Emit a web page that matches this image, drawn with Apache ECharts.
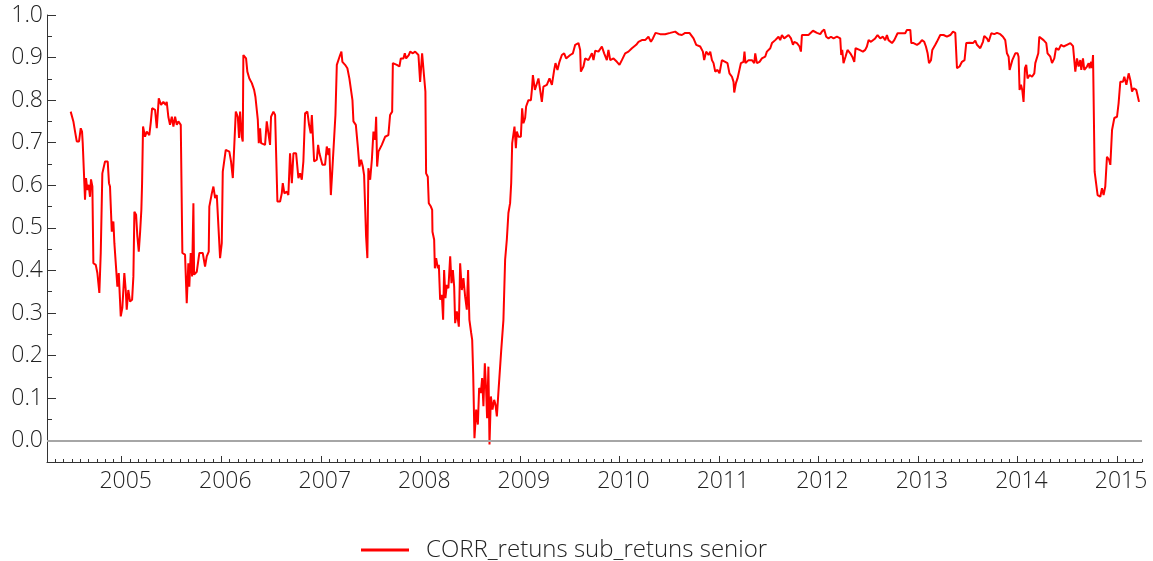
<!DOCTYPE html>
<html>
<head>
<meta charset="utf-8">
<script src="https://cdn.jsdelivr.net/npm/echarts@6/dist/echarts.min.js"></script>
<style>
html,body{margin:0;padding:0;background:#fff;}
#chart{width:1153px;height:561px;}
</style>
</head>
<body>
<div id="chart"></div>
<script>
// Dates as decimal years
var years = [
2004.487,2004.514,2004.531,2004.548,2004.571,2004.588,2004.601,2004.608,2004.624,2004.631,
2004.641,2004.654,2004.668,2004.681,2004.691,2004.705,2004.715,2004.739,2004.755,2004.775,
2004.789,2004.805,2004.822,2004.832,2004.859,2004.872,2004.882,2004.900,2004.916,2004.926,
2004.943,2004.956,2004.970,2004.990,2005.006,2005.026,2005.040,2005.050,2005.066,2005.083,
2005.104,2005.117,2005.127,2005.144,2005.157,2005.171,2005.184,2005.197,2005.204,2005.214,
2005.234,2005.251,2005.277,2005.291,2005.305,2005.335,2005.352,2005.372,2005.395,2005.418,
2005.442,2005.452,2005.468,2005.485,2005.503,2005.519,2005.536,2005.553,2005.569,2005.593,
2005.606,2005.609,2005.626,2005.636,2005.653,2005.669,2005.679,2005.693,2005.707,2005.720,
2005.727,2005.754,2005.780,2005.814,2005.837,2005.854,2005.874,2005.880,2005.905,2005.921,
2005.938,2005.955,2005.975,2005.988,2006.005,2006.015,2006.031,2006.045,2006.081,2006.098,
2006.116,2006.132,2006.146,2006.166,2006.179,2006.189,2006.206,2006.216,2006.222,2006.249,
2006.262,2006.282,2006.307,2006.330,2006.343,2006.357,2006.367,2006.377,2006.390,2006.400,
2006.440,2006.457,2006.473,2006.490,2006.500,2006.524,2006.541,2006.558,2006.564,2006.591,
2006.608,2006.618,2006.634,2006.658,2006.674,2006.691,2006.709,2006.725,2006.752,2006.775,
2006.792,2006.809,2006.825,2006.842,2006.865,2006.882,2006.899,2006.910,2006.926,2006.933,
2006.960,2006.973,2006.986,2007.000,2007.016,2007.043,2007.060,2007.076,2007.086,2007.101,
2007.114,2007.134,2007.147,2007.161,2007.181,2007.194,2007.207,2007.217,2007.244,2007.267,
2007.287,2007.302,2007.318,2007.328,2007.352,2007.372,2007.388,2007.405,2007.422,2007.435,
2007.445,2007.455,2007.468,2007.478,2007.496,2007.513,2007.529,2007.546,2007.556,2007.566,
2007.579,2007.596,2007.613,2007.629,2007.646,2007.679,2007.696,2007.717,2007.724,2007.764,
2007.790,2007.804,2007.830,2007.844,2007.857,2007.884,2007.898,2007.925,2007.948,2007.981,
2007.998,2008.018,2008.038,2008.051,2008.058,2008.075,2008.085,2008.106,2008.119,2008.122,
2008.139,2008.146,2008.159,2008.176,2008.186,2008.199,2008.216,2008.229,2008.239,2008.252,
2008.266,2008.282,2008.300,2008.313,2008.327,2008.340,2008.350,2008.367,2008.387,2008.400,
2008.417,2008.433,2008.450,2008.467,2008.480,2008.493,2008.511,2008.521,2008.531,2008.544,
2008.561,2008.578,2008.591,2008.608,2008.621,2008.634,2008.648,2008.661,2008.671,2008.684,
2008.695,2008.709,2008.725,2008.742,2008.755,2008.769,2008.785,2008.802,2008.812,2008.835,
2008.852,2008.869,2008.885,2008.902,2008.913,2008.923,2008.946,2008.960,2008.970,2008.986,
2009.010,2009.023,2009.036,2009.053,2009.063,2009.086,2009.111,2009.121,2009.131,2009.151,
2009.171,2009.187,2009.204,2009.221,2009.237,2009.271,2009.298,2009.322,2009.345,2009.358,
2009.378,2009.398,2009.422,2009.445,2009.465,2009.506,2009.533,2009.556,2009.589,2009.606,
2009.613,2009.639,2009.656,2009.689,2009.724,2009.740,2009.757,2009.790,2009.824,2009.847,
2009.874,2009.890,2009.908,2009.941,2009.975,2010.001,2010.025,2010.058,2010.091,2010.126,
2010.169,2010.192,2010.226,2010.259,2010.292,2010.317,2010.337,2010.363,2010.410,2010.460,
2010.511,2010.561,2010.594,2010.628,2010.661,2010.704,2010.745,2010.772,2010.812,2010.839,
2010.852,2010.872,2010.896,2010.913,2010.930,2010.946,2010.963,2010.986,2011.006,2011.030,
2011.063,2011.086,2011.106,2011.131,2011.147,2011.154,2011.171,2011.187,2011.207,2011.221,
2011.247,2011.257,2011.267,2011.298,2011.332,2011.355,2011.365,2011.382,2011.408,2011.432,
2011.465,2011.482,2011.516,2011.533,2011.566,2011.599,2011.616,2011.633,2011.656,2011.676,
2011.700,2011.724,2011.744,2011.757,2011.784,2011.810,2011.824,2011.834,2011.867,2011.900,
2011.918,2011.945,2011.985,2012.018,2012.035,2012.058,2012.078,2012.101,2012.126,2012.152,
2012.186,2012.219,2012.229,2012.239,2012.252,2012.272,2012.292,2012.320,2012.340,2012.360,
2012.373,2012.393,2012.413,2012.427,2012.447,2012.470,2012.487,2012.504,2012.528,2012.548,
2012.570,2012.594,2012.621,2012.648,2012.671,2012.688,2012.704,2012.739,2012.762,2012.782,
2012.795,2012.839,2012.872,2012.889,2012.923,2012.933,2012.956,2012.990,2013.016,2013.040,
2013.063,2013.080,2013.097,2013.111,2013.131,2013.144,2013.174,2013.190,2013.207,2013.224,
2013.257,2013.291,2013.325,2013.352,2013.375,2013.392,2013.418,2013.442,2013.468,2013.485,
2013.519,2013.553,2013.576,2013.593,2013.626,2013.653,2013.666,2013.693,2013.710,2013.737,
2013.767,2013.794,2013.827,2013.854,2013.877,2013.894,2013.911,2013.921,2013.935,2013.948,
2013.961,2013.978,2014.001,2014.011,2014.021,2014.035,2014.048,2014.061,2014.075,2014.088,
2014.101,2014.122,2014.146,2014.169,2014.179,2014.196,2014.209,2014.219,2014.239,2014.262,
2014.289,2014.302,2014.330,2014.347,2014.370,2014.387,2014.413,2014.437,2014.463,2014.497,
2014.531,2014.558,2014.574,2014.581,2014.598,2014.614,2014.631,2014.641,2014.658,2014.671,
2014.698,2014.715,2014.725,2014.739,2014.749,2014.759,2014.772,2014.775,2014.792,2014.805,
2014.832,2014.849,2014.865,2014.882,2014.899,2014.920,2014.933,2014.950,2014.973,2015.000,
2015.016,2015.033,2015.060,2015.073,2015.094,2015.117,2015.134,2015.151,2015.167,2015.194,
2015.207,2015.221
];
var corr = [
0.773,0.750,0.726,0.703,0.703,0.734,0.726,0.699,0.699,0.566,
0.617,0.589,0.601,0.573,0.614,0.597,0.417,0.413,0.394,0.347,
0.441,0.628,0.632,0.656,0.656,0.605,0.597,0.491,0.515,0.464,
0.464,0.362,0.394,0.292,0.312,0.394,0.354,0.308,0.354,0.327,
0.331,0.386,0.538,0.531,0.480,0.444,0.488,0.542,0.601,0.738,
0.714,0.726,0.718,0.746,0.781,0.777,0.734,0.804,0.789,0.796,
0.789,0.796,0.761,0.742,0.761,0.738,0.761,0.742,0.750,0.742,
0.738,0.441,0.444,0.437,0.323,0.417,0.362,0.441,0.386,0.558,
0.390,0.397,0.441,0.441,0.409,0.433,0.444,0.550,0.581,0.597,
0.570,0.577,0.573,0.429,0.464,0.632,0.636,0.683,0.679,0.656,
0.617,0.620,0.773,0.761,0.711,0.773,0.714,0.703,0.906,0.898,
0.867,0.851,0.840,0.824,0.808,0.812,0.754,0.699,0.734,0.699,
0.695,0.750,0.746,0.695,0.761,0.773,0.765,0.761,0.562,0.562,
0.581,0.605,0.581,0.585,0.577,0.675,0.605,0.675,0.675,0.617,
0.628,0.613,0.656,0.769,0.773,0.742,0.722,0.765,0.761,0.656,
0.660,0.695,0.675,0.671,0.648,0.648,0.691,0.671,0.687,0.577,
0.628,0.632,0.765,0.883,0.887,0.906,0.914,0.890,0.883,0.875,
0.851,0.851,0.800,0.750,0.742,0.691,0.644,0.660,0.644,0.624,
0.628,0.480,0.429,0.640,0.613,0.660,0.726,0.707,0.761,0.644,
0.679,0.683,0.695,0.695,0.714,0.718,0.765,0.773,0.887,0.883,
0.879,0.898,0.898,0.910,0.898,0.906,0.914,0.910,0.914,0.906,
0.843,0.910,0.855,0.820,0.628,0.620,0.558,0.550,0.542,0.491,
0.472,0.405,0.429,0.405,0.413,0.331,0.343,0.284,0.401,0.335,
0.366,0.358,0.433,0.370,0.401,0.362,0.276,0.304,0.268,0.417,
0.354,0.382,0.339,0.308,0.401,0.284,0.253,0.237,0.159,0.006,
0.073,0.038,0.124,0.112,0.147,0.081,0.182,0.120,0.053,0.174,
-0.009,0.104,0.073,0.096,0.085,0.057,0.116,0.120,0.210,0.284,
0.425,0.472,0.535,0.558,0.605,0.699,0.738,0.687,0.726,0.714,
0.714,0.781,0.746,0.758,0.785,0.800,0.800,0.824,0.859,0.824,
0.828,0.851,0.847,0.796,0.832,0.836,0.851,0.836,0.871,0.887,
0.871,0.890,0.906,0.910,0.898,0.906,0.910,0.930,0.934,0.918,
0.867,0.879,0.898,0.894,0.910,0.894,0.916,0.914,0.926,0.910,
0.894,0.918,0.894,0.898,0.890,0.883,0.894,0.910,0.914,0.922,
0.930,0.937,0.941,0.941,0.949,0.937,0.945,0.958,0.955,0.955,
0.958,0.961,0.955,0.953,0.958,0.958,0.945,0.930,0.926,0.914,
0.894,0.914,0.906,0.914,0.894,0.887,0.867,0.871,0.863,0.894,
0.890,0.887,0.863,0.855,0.843,0.818,0.840,0.851,0.851,0.887,
0.890,0.914,0.887,0.894,0.894,0.887,0.910,0.887,0.890,0.898,
0.902,0.914,0.922,0.934,0.941,0.949,0.941,0.953,0.945,0.941,
0.953,0.945,0.930,0.937,0.934,0.926,0.914,0.953,0.953,0.953,
0.957,0.963,0.958,0.955,0.961,0.966,0.949,0.945,0.949,0.945,
0.949,0.945,0.906,0.918,0.887,0.902,0.918,0.910,0.902,0.890,
0.922,0.922,0.918,0.922,0.914,0.918,0.926,0.941,0.937,0.941,
0.945,0.953,0.945,0.949,0.941,0.953,0.941,0.934,0.941,0.937,
0.957,0.957,0.957,0.965,0.965,0.934,0.934,0.930,0.934,0.941,
0.937,0.926,0.910,0.887,0.894,0.918,0.930,0.937,0.941,0.953,
0.953,0.949,0.953,0.961,0.958,0.875,0.879,0.890,0.894,0.934,
0.935,0.934,0.940,0.930,0.922,0.937,0.951,0.945,0.937,0.957,
0.955,0.958,0.955,0.949,0.941,0.910,0.902,0.871,0.871,0.894,
0.890,0.910,0.910,0.902,0.824,0.836,0.824,0.796,0.875,0.883,
0.851,0.859,0.855,0.863,0.887,0.890,0.910,0.949,0.949,0.941,
0.934,0.910,0.902,0.887,0.898,0.922,0.918,0.930,0.926,0.930,
0.934,0.927,0.926,0.867,0.898,0.879,0.894,0.871,0.898,0.871,
0.879,0.887,0.875,0.890,0.875,0.906,0.910,0.632,0.628,0.577,
0.573,0.593,0.577,0.597,0.667,0.660,0.648,0.730,0.758,0.761,
0.793,0.843,0.843,0.855,0.836,0.863,0.847,0.820,0.828,0.824,
0.820,0.796
];
var yearTicks = [2005,2006,2007,2008,2009,2010,2011,2012,2013,2014,2015];
var yMajor = [0.0,0.1,0.2,0.3,0.4,0.5,0.6,0.7,0.8,0.9,1.0];
var yMinor = [0.05,0.15,0.25,0.35,0.45,0.55,0.65,0.75,0.85,0.95];
var seriesName = 'CORR_retuns sub_retuns senior';

var xMin = 2004.249, xMax = 2015.251;
var monthTicks = [];
for (var y = 2004; y <= 2015; y++) {
  for (var m = 0; m < 12; m++) {
    var t = y + m / 12;
    if (t > xMin && t < xMax) monthTicks.push(t);
  }
}
var data = years.map(function (t, i) { return [t, corr[i]]; });

var FONT = '"Open Sans", "Segoe UI", sans-serif';
var AX = '#333';
var chart = echarts.init(document.getElementById('chart'), null, {renderer: 'canvas'});
chart.setOption({
  animation: false,
  backgroundColor: '#fff',
  grid: {left: 47, right: 11, top: 15, bottom: 99},
  legend: {
    left: 356, top: 533, icon: 'rect', itemWidth: 48, itemHeight: 3,
    data: [seriesName],
    textStyle: {fontSize: 24, color: '#222', fontFamily: FONT, fontWeight: 300, padding: [0, 0, 0, 12]}
  },
  xAxis: [{
    type: 'value', min: xMin, max: xMax,
    axisLine: {show: true, onZero: false, lineStyle: {color: AX, width: 1}},
    axisTick: {show: true, inside: true, length: 6, customValues: yearTicks, lineStyle: {color: AX}},
    axisLabel: {customValues: yearTicks, formatter: function (v) { return String(Math.round(v)); },
      fontSize: 23, color: '#222', fontFamily: FONT, fontWeight: 300, margin: 8, padding: [0, 0, 0, 8]},
    splitLine: {show: false}
  }, {
    type: 'value', min: xMin, max: xMax, position: 'bottom', offset: 0,
    axisLine: {show: false, onZero: false},
    axisTick: {show: true, inside: true, length: 3, customValues: monthTicks, lineStyle: {color: AX}},
    axisLabel: {show: false},
    splitLine: {show: false}
  }],
  yAxis: [{
    type: 'value', min: -0.05, max: 1.0,
    axisLine: {show: true, onZero: false, lineStyle: {color: AX, width: 1}},
    axisTick: {show: true, inside: true, length: 9, customValues: yMajor, lineStyle: {color: AX}},
    axisLabel: {customValues: yMajor, formatter: function (v) { return v.toFixed(1); },
      fontSize: 23, color: '#222', fontFamily: FONT, fontWeight: 300, margin: 4},
    splitLine: {show: false}
  }, {
    type: 'value', min: -0.05, max: 1.0, position: 'left', offset: 0,
    axisLine: {show: false, onZero: false},
    axisTick: {show: true, inside: true, length: 5, customValues: yMinor, lineStyle: {color: AX}},
    axisLabel: {show: false},
    splitLine: {show: false}
  }],
  series: [{
    name: seriesName, type: 'line', xAxisIndex: 0, yAxisIndex: 0,
    data: data, showSymbol: false, symbol: 'none',
    lineStyle: {color: '#ff0000', width: 2}, itemStyle: {color: '#ff0000'},
    markLine: {
      silent: true, symbol: 'none', label: {show: false},
      lineStyle: {color: '#a6a6a6', width: 2, type: 'solid'},
      data: [{yAxis: 0}]
    },
    z: 3
  }]
});
</script>
</body>
</html>
